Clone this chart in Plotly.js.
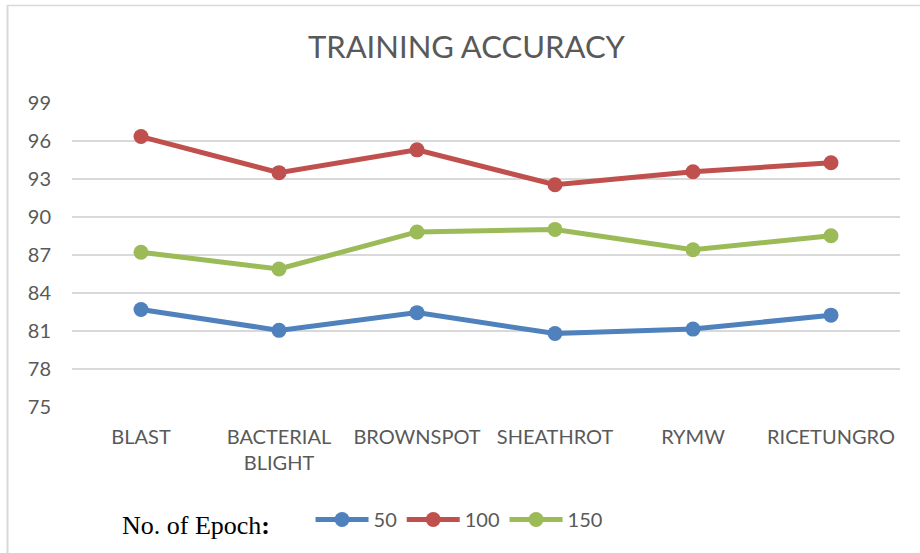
<!DOCTYPE html>
<html>
<head>
<meta charset="utf-8">
<script src="https://cdn.plot.ly/plotly-3.0.1.min.js"></script>
<style>html,body{margin:0;padding:0;background:#fff;}#chart{width:920px;height:553px;}</style>
</head>
<body>
<div id="chart"></div>
<script>
const categories = ["BLAST", "BACTERIAL BLIGHT", "BROWNSPOT", "SHEATHROT", "RYMW", "RICETUNGRO"];
const tickLabels = ["BLAST", "BACTERIAL<br>BLIGHT", "BROWNSPOT", "SHEATHROT", "RYMW", "RICETUNGRO"];
const seriesNames = ["50", "100", "150"];
const epoch50 = [82.7, 81.05, 82.45, 80.8, 81.15, 82.25];
const epoch100 = [96.35, 93.5, 95.3, 92.55, 93.57, 94.28];
const epoch150 = [87.22, 85.9, 88.82, 89.02, 87.42, 88.52];
const yTicks = [75, 78, 81, 84, 87, 90, 93, 96, 99];

const colors = ["#4f81bd", "#c0504d", "#9bbb59"];
const values = [epoch50, epoch100, epoch150];

const W = 920, H = 553;
const M = {l: 72, r: 20, t: 103, b: 146};
const pw = W - M.l - M.r, ph = H - M.t - M.b;
const px = x => (x - M.l) / pw;
const py = y => (H - M.b - y) / ph;

const traces = values.map((v, i) => ({
  type: "scatter",
  mode: "lines+markers",
  name: seriesNames[i],
  x: categories,
  y: v,
  line: {color: colors[i], width: 5},
  marker: {color: colors[i], size: 15}
}));

const layout = {
  width: W, height: H,
  margin: M,
  paper_bgcolor: "#ffffff",
  plot_bgcolor: "#ffffff",
  title: {
    text: "TRAINING ACCURACY",
    font: {family: "Lato", size: 31, color: "#595959", weight: 400},
    x: 0.507, xref: "container", xanchor: "center",
    y: 1 - 47 / H, yref: "container", yanchor: "middle"
  },
  xaxis: {
    type: "category",
    range: [-0.5, 5.5],
    tickvals: categories,
    ticktext: tickLabels,
    showgrid: false,
    zeroline: false,
    showline: false,
    ticks: "",
    ticklabelstandoff: 16,
    tickfont: {family: "Lato", size: 20, color: "#595959"}
  },
  yaxis: {
    range: [75, 99],
    tickvals: yTicks,
    showgrid: true,
    gridcolor: "#d9d9d9",
    gridwidth: 1.5,
    zeroline: false,
    showline: false,
    ticks: "",
    ticklabelstandoff: 20,
    tickfont: {family: "Lato", size: 20, color: "#595959"}
  },
  showlegend: true,
  legend: {
    orientation: "h",
    xref: "container", yref: "container",
    x: 120 / W, xanchor: "left",
    y: 1 - 522 / H, yanchor: "middle",
    font: {family: "Lato", size: 20, color: "#595959"},
    title: {text: "No. of Epoch<b>:</b>     ", side: "left", font: {family: "Liberation Serif", size: 26, color: "#000000"}},
    itemwidth: 53,
    tracegroupgap: 0
  },
  shapes: [
    {type: "line", xref: "paper", yref: "paper", x0: px(7.5), x1: px(W + 5), y0: py(5.5), y1: py(5.5), line: {color: "#d9d9d9", width: 1.5}},
    {type: "line", xref: "paper", yref: "paper", x0: px(7.5), x1: px(7.5), y0: py(5), y1: py(H + 5), line: {color: "#d9d9d9", width: 2}}
  ]
};

Plotly.newPlot("chart", traces, layout, {displayModeBar: false, staticPlot: true});
</script>
</body>
</html>
